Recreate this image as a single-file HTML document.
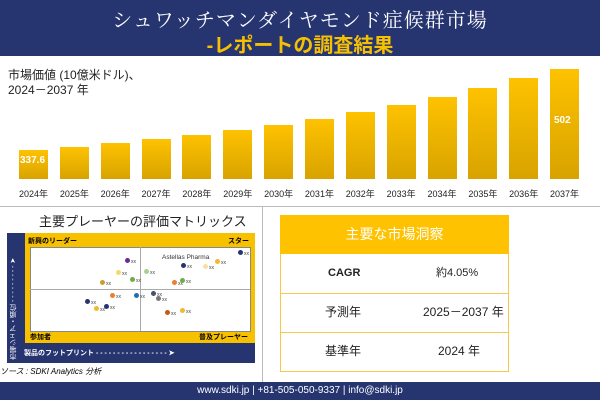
<!DOCTYPE html><html><head><meta charset="utf-8"><style>
body{margin:0;width:600px;height:400px;position:relative;background:#fff;font-family:"Liberation Sans","Noto Sans CJK JP",sans-serif;overflow:hidden}
.a{position:absolute}
.bar{position:absolute;width:29px;background:linear-gradient(#fec200,#d8a300)}
.yl{position:absolute;top:187px;font-size:9px;width:40px;text-align:center;color:#222}
.dot{position:absolute;width:5px;height:5px;border-radius:50%}
.xx{position:absolute;font-size:5px;color:#444}
.row{position:absolute;height:39px;line-height:39px;font-size:12px;color:#222}
</style></head><body>
<div class="a" style="left:0;top:0;width:600px;height:56px;background:#263470"></div>
<div class="a" style="left:0;top:4px;width:600px;text-align:center;color:#fff;font-size:20px;font-family:'Noto Serif CJK SC',serif;letter-spacing:1px">シュワッチマンダイヤモンド症候群市場</div>
<div class="a" style="left:0;top:29px;width:600px;text-align:center;color:#f5c000;font-size:20px;font-weight:bold">-レポートの調査結果</div>
<div class="a" style="left:8px;top:68px;font-size:12px;line-height:15px;color:#222">市場価値 (10億米ドル)、<br>2024－2037 年</div>
<div id="bars"></div>
<div class="a" style="left:20px;top:155px;font-size:10px;font-weight:bold;color:#fff">337.6</div>
<div class="a" style="left:554px;top:115px;font-size:10px;font-weight:bold;color:#fff">502</div>
<div class="a" style="left:0;top:206px;width:600px;height:1px;background:#bbb"></div>
<div class="a" style="left:262px;top:207px;width:1px;height:175px;background:#bbb"></div>
<div class="a" style="left:39px;top:211px;font-size:13px;color:#222">主要プレーヤーの評価マトリックス</div>
<div class="a" style="left:7px;top:233px;width:248px;height:130px;background:#263470"></div>
<div class="a" style="left:25px;top:233px;width:230px;height:110px;background:#f8c100"></div>
<div class="a" style="left:30px;top:247px;width:219px;height:83px;background:#fff;border:1px solid #888"></div>
<div class="a" style="left:140px;top:247px;width:1px;height:84px;background:#aaa"></div>
<div class="a" style="left:30px;top:289px;width:220px;height:1px;background:#aaa"></div>
<div class="a" style="left:28px;top:236px;font-size:7px;font-weight:bold">新興のリーダー</div>
<div class="a" style="left:228px;top:236px;font-size:7px;font-weight:bold">スター</div>
<div class="a" style="left:30px;top:332px;font-size:7px;font-weight:bold">参加者</div>
<div class="a" style="left:199px;top:332px;font-size:7px;font-weight:bold">普及プレーヤー</div>
<div class="a" style="left:24px;top:348px;font-size:7px;color:#fff;font-weight:bold;white-space:nowrap">製品のフットプリント - - - - - - - - - - - - - - - - - ➤</div>
<div class="a" style="left:8px;top:240px;width:12px;font-size:7px;color:#fff;line-height:12px;writing-mode:vertical-rl;transform:rotate(180deg);height:120px;white-space:nowrap">市場シェア・順位 - - - - - - - - - ➤</div>
<div class="a" style="left:162px;top:254px;font-size:6.5px;color:#333">Astellas Pharma</div>
<div id="dots"></div>
<div class="a" style="left:0;top:366px;font-size:8px;font-style:italic">ソース : SDKI Analytics 分析</div>
<div class="a" style="left:280px;top:215px;width:229px;height:39px;background:#fec200;color:#fff;font-size:14px;text-align:center;line-height:39px">主要な市場洞察</div>
<div class="a" style="left:280px;top:254px;width:227px;height:117px;border:1px solid #f5c94a;border-top:none"></div>
<div class="a" style="left:280px;top:293px;width:229px;height:1px;background:#f5c94a"></div>
<div class="a" style="left:280px;top:332px;width:229px;height:1px;background:#f5c94a"></div>
<div class="row" style="left:328px;top:254px;font-size:11px;font-weight:bold">CAGR</div>
<div class="row" style="left:436px;top:254px;font-size:11px">約4.05%</div>
<div class="row" style="left:325px;top:293px">予測年</div>
<div class="row" style="left:423px;top:293px">2025－2037 年</div>
<div class="row" style="left:325px;top:332px">基準年</div>
<div class="row" style="left:438px;top:332px">2024 年</div>
<div class="a" style="left:0;top:382px;width:600px;height:18px;background:#263470;color:#fff;font-size:10px;text-align:center;line-height:18px">www.sdki.jp | +81-505-050-9337 | info@sdki.jp</div>
<script>
var tops=[150,147,143,139,135,130,125,119,112,105,97,88,78,69],h='';
tops.forEach(function(t,i){var x=19+i*40.85;h+='<div class="bar" style="left:'+x+'px;top:'+t+'px;height:'+(179-t)+'px"></div><div class="yl" style="left:'+(x-5.5)+'px">'+(2024+i)+'年</div>'});
document.getElementById('bars').innerHTML=h;
var d=[[127,260,'#6a2c91'],[118,272,'#f4d86a'],[102,282,'#c8a02a'],[132,279,'#70ad47'],[240,252,'#263470'],[205,266,'#f8e0a0'],[217,261,'#f2b830'],[146,271,'#a9d18e'],[183,265,'#263470'],[174,282,'#ed7d31'],[182,280,'#70ad47'],[112,295,'#ed7d31'],[136,295,'#1f6fb0'],[87,301,'#263470'],[96,308,'#f2b830'],[106,306,'#263470'],[153,293,'#44546a'],[158,298,'#777'],[167,312,'#c55a11'],[182,310,'#f2b830']];
h='';d.forEach(function(p){h+='<div class="dot" style="left:'+(p[0]-2.5)+'px;top:'+(p[1]-2.5)+'px;background:'+p[2]+'"></div><div class="xx" style="left:'+(p[0]+4)+'px;top:'+(p[1]-1)+'px">xx</div>'});
document.getElementById('dots').innerHTML=h;
</script>
</body></html>
